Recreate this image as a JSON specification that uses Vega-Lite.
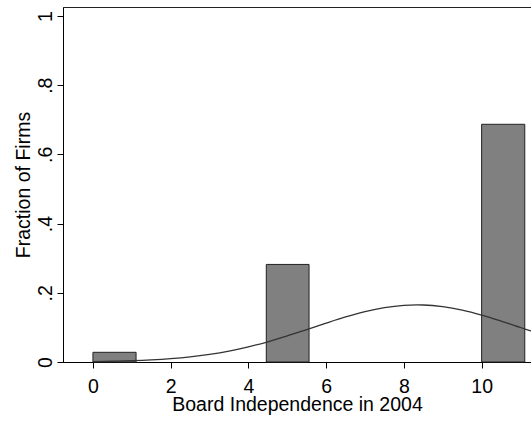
{
  "$schema": "https://vega.github.io/schema/vega-lite/v6.json",
  "width": 468,
  "height": 355,
  "autosize": {"type": "none"},
  "padding": {"left": 63, "top": 7, "right": 0, "bottom": 60},
  "background": "white",
  "config": {
    "view": {"stroke": "#222", "strokeWidth": 1},
    "font": "Liberation Sans",
    "axis": {
      "domainColor": "#000",
      "tickColor": "#000",
      "labelColor": "#000",
      "titleColor": "#000",
      "labelFontSize": 19.5,
      "titleFontSize": 19.5,
      "titleFontWeight": "normal",
      "labelFont": "Liberation Sans",
      "titleFont": "Liberation Sans",
      "grid": false,
      "tickSize": 6
    }
  },
  "datasets": {
    "bars": [
      {"start": 0, "end": 1.11, "fraction": 0.028},
      {"start": 4.46, "end": 5.56, "fraction": 0.282},
      {"start": 10.0, "end": 11.11, "fraction": 0.687}
    ],
    "curve": [
      {"x": 0, "density": 0.0012},
      {"x": 0.5, "density": 0.0022},
      {"x": 1, "density": 0.0037},
      {"x": 1.5, "density": 0.0061},
      {"x": 2, "density": 0.0097},
      {"x": 2.5, "density": 0.0149},
      {"x": 3, "density": 0.0222},
      {"x": 3.5, "density": 0.0317},
      {"x": 4, "density": 0.0439},
      {"x": 4.5, "density": 0.0585},
      {"x": 5, "density": 0.0753},
      {"x": 5.5, "density": 0.0937},
      {"x": 6, "density": 0.1124},
      {"x": 6.5, "density": 0.1302},
      {"x": 7, "density": 0.1456},
      {"x": 7.5, "density": 0.1572},
      {"x": 8, "density": 0.1637},
      {"x": 8.33, "density": 0.165},
      {"x": 8.5, "density": 0.1647},
      {"x": 9, "density": 0.1598},
      {"x": 9.5, "density": 0.1498},
      {"x": 10, "density": 0.1355},
      {"x": 10.5, "density": 0.1183},
      {"x": 11, "density": 0.0997},
      {"x": 11.27, "density": 0.0896}
    ]
  },
  "layer": [
    {
      "data": {"name": "bars"},
      "mark": {"type": "rect", "fill": "#808080", "stroke": "#222", "strokeWidth": 1},
      "encoding": {
        "x": {
          "field": "start",
          "type": "quantitative",
          "scale": {"domain": [-0.77, 11.27], "nice": false, "zero": false},
          "axis": {
            "values": [0, 2, 4, 6, 8, 10],
            "title": "Board Independence in 2004",
            "labelPadding": 9,
            "titlePadding": 0
          }
        },
        "x2": {"field": "end"},
        "y": {
          "field": "fraction",
          "type": "quantitative",
          "scale": {"domain": [0, 1.026], "nice": false},
          "axis": {
            "values": [0, 0.2, 0.4, 0.6, 0.8, 1],
            "labelExpr": "datum.value == 0 ? '0' : datum.value == 1 ? '1' : replace(format(datum.value, '.1f'), '0.', '.')",
            "labelAngle": -90,
            "labelAlign": "center",
            "labelBaseline": "bottom",
            "labelPadding": 2,
            "title": "Fraction of Firms",
            "titlePadding": 2
          }
        },
        "y2": {"datum": 0}
      }
    },
    {
      "data": {"name": "curve"},
      "mark": {"type": "line", "stroke": "#333", "strokeWidth": 1.3, "interpolate": "monotone"},
      "encoding": {
        "x": {"field": "x", "type": "quantitative"},
        "y": {"field": "density", "type": "quantitative"}
      }
    }
  ]
}
